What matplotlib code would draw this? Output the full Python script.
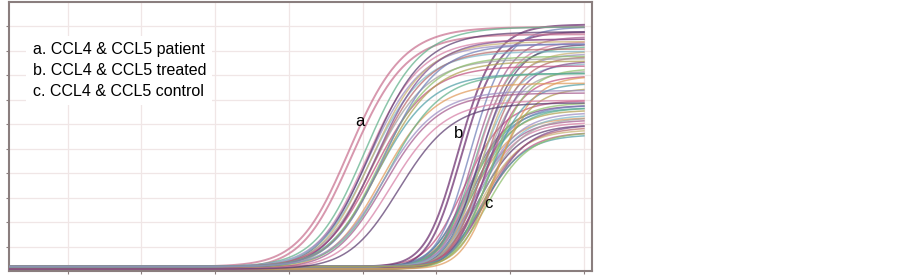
import numpy as np
import matplotlib
matplotlib.use("Agg")
import matplotlib.pyplot as plt

plt.rcParams["font.family"] = ["Liberation Sans", "DejaVu Sans"]

# amplification curves: cycle at half plateau and plateau level
a_ct = [24.2, 24.4, 25.3, 25.4, 25.5, 25.6, 25.6, 25.7, 25.8, 25.9, 25.9,
        26.0, 26.1, 26.2, 26.3, 26.4, 26.5, 26.6, 26.8, 27.0, 26.5, 27.6]
a_plateau = [9.8, 9.6, 9.8, 9.4, 9.1, 9.7, 8.8, 9.3, 8.5, 9.0, 8.2,
             9.4, 7.9, 8.7, 8.4, 7.6, 9.1, 7.2, 7.9, 6.9, 7.2, 6.8]
b_ct = [31.6, 31.8, 32.4, 32.6, 32.7, 32.8, 32.9, 33.0, 33.0, 33.1, 33.2,
        33.3, 33.4, 33.5, 33.6, 33.7, 33.9, 34.1]
b_plateau = [9.9, 9.7, 9.8, 9.5, 9.0, 9.3, 8.7, 9.2, 8.3, 8.9, 8.0,
             8.7, 7.8, 8.5, 7.5, 8.2, 7.3, 7.9]
c_ct = [32.0, 32.2, 32.3, 32.4, 32.5, 32.5, 32.6, 32.7, 32.7, 32.8, 32.9,
        33.0, 33.0, 33.1, 33.2, 33.3, 33.4, 33.5, 33.3, 33.6]
c_plateau = [6.8, 6.7, 6.5, 6.8, 6.4, 6.2, 6.6, 6.1, 6.5, 6.0, 6.3,
             5.9, 6.2, 5.7, 6.1, 5.8, 5.5, 5.9, 5.4, 5.6]

legend_lines = ["a. CCL4 & CCL5 patient",
                "b. CCL4 & CCL5 treated",
                "c. CCL4 & CCL5 control"]
group_labels = ["a", "b", "c"]

palette = ["#c0507f", "#7d4b8c", "#4f9fa6", "#8cbf6a", "#b0a050", "#e09a5a",
           "#6f7fb8", "#a45a8e", "#5fb08a", "#d67fa6", "#9a8cc2", "#5a3a6e",
           "#7fb8c8", "#c8b070", "#a0a0a0", "#b86a6a"]

# curve shape per group: slope of upper part, asymmetry
shapes = {"a": (1.9, 1.3), "b": (1.3, 1.5), "c": (1.5, 1.6)}


def amp_curve(x, ct, plateau, s, g, base):
    x0 = ct + s * np.log(2 ** (1 / g) - 1)
    return base + plateau * (1 + np.exp(-(x - x0) / s)) ** (-g)


fig = plt.figure(figsize=(9.03, 2.75), dpi=100)
ax = fig.add_axes([8.5 / 903, 4 / 275, (592 - 8.5) / 903, 269 / 275])

cycles = np.linspace(1, 40, 600)
groups = [("c", c_ct, c_plateau), ("b", b_ct, b_plateau), ("a", a_ct, a_plateau)]
k = 0
for name, cts, plats in groups:
    s, g = shapes[name]
    for i, (ct, pl) in enumerate(zip(cts, plats)):
        base = 0.18 if i % 2 == 0 else 0.08
        col = palette[k % len(palette)]
        lw = 1.1
        if i < 2 and name != "c":
            col = "#6a2d6e" if name == "b" else "#c8708f"
            lw = 1.4
        ax.plot(cycles, amp_curve(cycles, ct, pl, s, g, base),
                color=col, lw=lw, alpha=0.72, zorder=3)
        k += 1

ax.set_xlim(1, 40.55)
ax.set_ylim(0, 11)
ax.set_xticks(np.arange(5, 41, 5))
ax.set_yticks(np.arange(1, 11, 1))
ax.tick_params(length=2, color="#8a7e7e", labelleft=False, labelbottom=False)
ax.grid(True, color="#f0e6e6", lw=0.9, zorder=0)
ax.set_axisbelow(True)
for sp in ax.spines.values():
    sp.set_color("#8a7e7e")
    sp.set_linewidth(1.5)

ax.text(2.63, 8.2, "\n".join(legend_lines), fontsize=11.5, ha="left", va="center",
        linespacing=1.5, zorder=4,
        bbox=dict(boxstyle="square,pad=0.4", facecolor="white", edgecolor="none"))

label_pos = [(24.8, 6.1), (31.5, 5.64), (33.5, 2.78)]
for lab, (lx, ly) in zip(group_labels, label_pos):
    ax.text(lx, ly, lab, fontsize=12, ha="center", va="center", zorder=5)

fig.savefig("out.png", dpi=100)
